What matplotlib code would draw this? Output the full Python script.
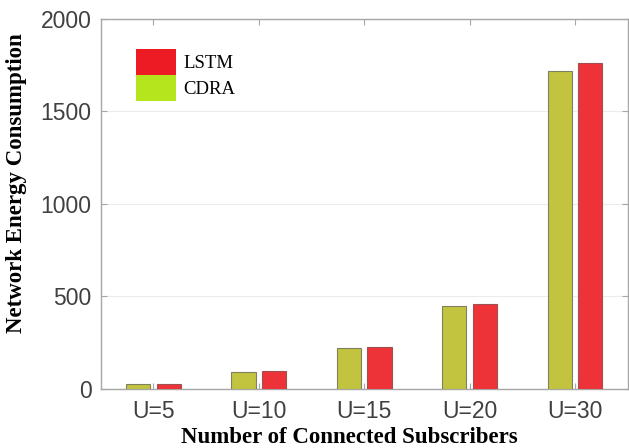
import matplotlib
matplotlib.use("Agg")
import matplotlib.pyplot as plt
import numpy as np
from matplotlib.patches import Patch

categories = ["U=5", "U=10", "U=15", "U=20", "U=30"]
cdra = [25, 93, 220, 450, 1720]
lstm = [25, 97, 225, 459, 1762]

cdra_color = "#C2C440"
lstm_color = "#EE3338"

fig = plt.figure(figsize=(6.29, 4.48), dpi=100)
ax = fig.add_axes([0.160, 0.1317, 0.838, 0.8259])

x = np.arange(1, len(categories) + 1)
w = 0.23
off = 0.145
ax.bar(x - off, cdra, width=w, color=cdra_color, edgecolor="#808060", linewidth=0.8, zorder=3)
ax.bar(x + off, lstm, width=w, color=lstm_color, edgecolor="#a05050", linewidth=0.8, zorder=3)

ax.set_xlim(0.5, 5.5)
ax.set_ylim(0, 2000)
ax.set_xticks(x)
ax.set_xticklabels(categories)
ax.set_yticks([0, 500, 1000, 1500, 2000])

ax.grid(axis="y", color="#ececec", linewidth=0.8, zorder=0)
for s in ax.spines.values():
    s.set_color("#a6a6a6")
    s.set_linewidth(1.0)

ax.tick_params(axis="both", which="both", direction="in", top=True, right=True,
               length=4, width=0.8, color="#a6a6a6", labelsize=16.5,
               labelcolor="#404040")
ax.tick_params(axis="y", pad=6.5)
ax.tick_params(axis="x", pad=8)
for lab in ax.get_xticklabels() + ax.get_yticklabels():
    lab.set_family(["Liberation Sans", "DejaVu Sans"])

ax.set_xlabel("Number of Connected Subscribers", family="Liberation Serif",
              fontweight="bold", fontsize=16.5, color="black")
ax.set_ylabel("Network Energy Consumption", family="Liberation Serif",
              fontweight="bold", fontsize=16.5, color="black")
ax.xaxis.set_label_coords(0.472, -0.102)
ax.yaxis.set_label_coords(-0.14, 0.557)

handles = [Patch(facecolor="#ED1C24", edgecolor="none", label="LSTM"),
           Patch(facecolor="#B5E61D", edgecolor="none", label="CDRA")]
ax.legend(handles=handles, loc="upper left", bbox_to_anchor=(0.067, 0.919),
          frameon=False, borderpad=0, borderaxespad=0, labelspacing=0,
          handlelength=2.13, handleheight=1.75, handletextpad=0.4,
          prop={"family": "Liberation Serif", "size": 13.5})

fig.savefig("out.png", dpi=100)
